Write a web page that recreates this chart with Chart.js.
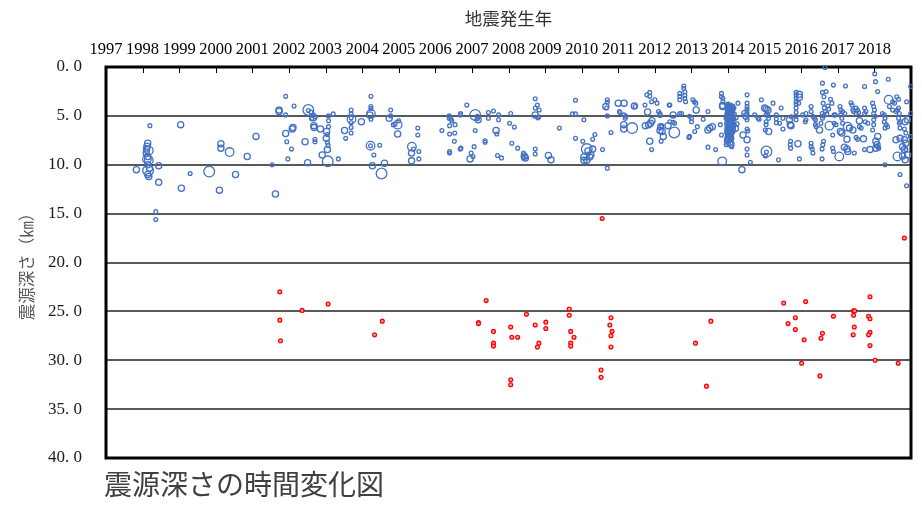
<!DOCTYPE html>
<html lang="ja">
<head>
<meta charset="utf-8">
<title>震源深さの時間変化図</title>
<script src="https://cdn.jsdelivr.net/npm/chart.js@4.4.1/dist/chart.umd.min.js"></script>
<style>
  html, body { margin: 0; padding: 0; background: #fff; }
  #wrap { width: 922px; height: 509px; }
</style>
</head>
<body>
<div id="wrap"><canvas id="chart" width="922" height="509"></canvas></div>
<script>
// axis ticks
const yearTicks = [1997, 1998, 1999, 2000, 2001, 2002, 2003, 2004, 2005, 2006, 2007, 2008,
  2009, 2010, 2011, 2012, 2013, 2014, 2015, 2016, 2017, 2018, 2019]
const depthTicks = [0, 5, 10, 15, 20, 25, 30, 35, 40]

// shallow events: [year, depth km, magnitude]
const quakes1997to2001 = [
  [1997.83,10.5,1.8],
  [1998.14,7.8,1.8],[1998.12,8.1,1.8],[1998.11,8.4,1.8],[1998.17,8.55,2.6],[1998.10,8.8,1.8],
  [1998.14,9.15,1.8],[1998.12,9.4,2.6],[1998.17,9.55,2.6],[1998.14,10.0,1.8],[1998.19,10.35,1.8],
  [1998.15,10.6,3.3],[1998.14,11.0,1.8],[1998.17,11.2,1.8],
  [1998.20,6.0,1.0],[1998.44,10.1,1.8],[1998.44,11.8,1.8],[1998.36,14.8,1.0],[1998.36,15.6,1.0],
  [1999.04,5.9,1.8],[1999.06,12.4,1.8],[1999.30,10.9,1.0],[1999.82,10.7,3.3],
  [2000.14,7.85,1.8],[2000.14,8.3,1.8],[2000.38,8.7,2.6],[2000.10,12.6,1.8],[2000.54,11.0,1.8],[2000.86,9.15,1.8],
  [2001.10,7.1,1.8],[2001.54,10.0,1.0],[2001.63,13.0,1.8],[2001.73,4.4,1.8],[2001.73,4.55,1.8],
  [2001.91,3.0,1.0],[2001.91,4.9,1.0],[2001.91,6.8,1.8],[2001.94,7.65,1.0],[2001.97,9.4,1.0]
]

const quakes2002to2005 = [
  [2002.14,4.0,1.0],[2002.09,6.35,1.8],[2002.11,6.2,1.8],[2002.07,8.4,1.0],[2002.44,7.65,1.8],[2002.51,9.8,1.8],
  [2002.53,4.4,3.3],[2002.53,4.45,1.0],[2002.60,4.6,1.0],[2002.67,4.9,1.0],[2002.67,5.2,1.8],[2002.72,5.1,1.0],
  [2002.62,5.3,1.0],[2002.68,6.0,1.8],[2002.69,6.2,1.8],[2002.86,6.35,1.8],[2002.71,7.4,1.0],[2002.71,7.65,1.0],
  [2002.91,9.0,1.8],
  [2003.03,6.6,1.8],[2003.05,6.9,1.0],[2003.02,7.3,1.8],[2003.05,7.7,1.0],[2003.07,8.0,1.0],[2003.05,8.45,1.8],
  [2003.08,5.0,1.0],[2003.08,5.5,1.0],[2003.08,6.1,1.0],[2003.06,9.65,3.3],[2003.21,4.8,1.0],[2003.35,9.4,1.0],
  [2003.52,6.5,1.8],[2003.55,7.3,1.0],
  [2003.70,4.4,1.0],[2003.70,4.8,1.0],[2003.70,5.2,1.0],[2003.70,5.7,1.0],[2003.70,6.2,1.0],[2003.70,6.75,1.0],
  [2003.71,5.35,2.6],[2003.98,5.6,1.8],
  [2004.21,4.9,1.8],[2004.24,3.0,1.0],[2004.24,4.05,1.0],[2004.24,4.25,1.0],[2004.24,5.35,1.0],[2004.24,4.8,2.6],
  [2004.23,8.05,2.6],[2004.23,8.05,1.0],[2004.32,9.0,1.0],[2004.48,8.0,1.0],[2004.28,10.1,1.8],[2004.53,10.9,3.3],
  [2004.61,9.85,1.8],
  [2004.74,5.25,1.8],[2004.78,4.4,1.0],[2004.78,5.0,1.0],[2004.85,5.9,1.0],[2004.90,5.85,1.0],[2004.97,5.9,2.6],
  [2004.97,6.85,1.8],[2005.00,5.5,1.0],
  [2005.36,8.15,2.6],[2005.35,8.8,1.8],[2005.35,9.6,1.8],[2005.55,8.65,1.0],[2005.55,9.4,1.0],[2005.52,6.25,1.0],
  [2005.52,6.95,1.0],[2005.40,8.4,1.0]
]

const quakes2006to2010 = [
  [2006.18,6.5,1.0],
  [2006.38,5.0,1.0],[2006.38,5.25,1.0],[2006.43,5.35,1.0],[2006.45,5.5,1.0],[2006.39,6.0,1.0],[2006.39,6.85,1.0],
  [2006.53,6.75,1.0],[2006.54,5.9,1.0],[2006.52,7.6,1.0],[2006.39,8.65,1.0],[2006.39,8.8,1.0],
  [2006.68,8.4,1.0],[2006.70,8.3,1.0],[2006.69,4.75,1.0],[2006.69,4.9,1.0],[2006.86,3.9,1.0],
  [2006.98,8.8,1.0],[2007.03,9.15,1.0],[2006.95,9.4,1.8],
  [2007.09,4.9,3.3],[2007.15,5.05,1.0],[2007.15,5.3,1.0],[2007.17,5.4,1.8],[2007.09,6.5,1.0],[2007.06,8.15,1.0],
  [2007.36,7.55,1.0],[2007.36,7.7,1.0],[2007.45,4.65,1.0],[2007.45,5.25,1.0],[2007.59,4.5,1.0],
  [2007.66,6.5,1.8],[2007.68,6.85,1.0],[2007.73,4.9,1.0],[2007.73,5.4,1.0],[2007.70,9.05,1.0],[2007.81,9.3,1.0],
  [2008.03,5.75,1.0],[2008.06,4.75,1.0],[2008.16,6.15,1.0],[2008.09,7.8,1.0],[2008.25,8.3,1.0],
  [2008.41,8.8,1.0],[2008.43,9.1,1.8],[2008.46,9.3,1.8],[2008.48,9.2,1.0],[2008.41,9.3,1.0],
  [2008.73,3.25,1.0],[2008.79,3.9,1.0],[2008.73,4.2,1.0],[2008.84,4.4,1.0],[2008.73,4.9,1.8],
  [2008.80,5.2,1.0],[2008.83,5.1,1.0],[2008.73,8.4,1.0],[2008.73,8.9,1.0],
  [2009.09,9.05,1.8],[2009.16,9.5,1.8],[2009.39,6.25,1.0],[2009.75,4.8,1.0],[2009.83,4.8,1.0],[2009.83,3.4,1.0],
  [2009.83,7.3,1.0],[2010.06,5.4,1.0],[2010.03,7.6,1.0],[2010.30,7.4,1.0],[2010.36,6.9,1.0],
  [2010.14,8.4,3.3],[2010.17,8.6,1.8],[2010.30,8.4,1.8],[2010.25,9.0,1.8],[2010.06,9.2,1.8],[2010.06,9.55,1.8],
  [2010.14,9.55,1.8],[2010.22,9.2,1.8],[2010.18,8.9,1.0],
  [2010.57,8.45,1.0],[2010.70,3.35,1.0],[2010.70,3.6,1.0],[2010.66,4.05,1.8],[2010.68,4.2,1.0],
  [2010.70,10.35,1.0],[2010.80,6.7,1.0],[2010.70,5.0,1.0]
]

const quakes2011to2013 = [
  [2011.00,3.7,1.8],[2011.16,3.7,1.8],[2011.03,4.55,1.0],[2011.05,4.65,1.0],[2011.16,4.9,1.0],[2011.19,5.25,1.0],
  [2011.21,5.05,1.0],[2011.15,5.9,1.8],[2011.15,6.35,1.8],[2011.38,6.25,3.3],[2011.44,4.0,1.8],[2011.46,4.05,1.0],
  [2011.73,3.9,1.0],[2011.78,2.85,1.0],[2011.86,2.6,1.0],[2011.86,3.0,1.0],[2011.91,3.55,1.0],[2012.00,3.35,1.0],
  [2012.06,3.7,1.0],[2011.80,4.6,1.8],[2012.10,4.55,1.0],[2012.14,4.75,1.0],[2012.18,6.0,1.0],[2012.18,6.1,1.0],
  [2011.92,5.5,1.8],[2011.88,5.75,1.8],[2011.83,5.9,1.8],[2011.74,6.0,1.8],[2012.14,6.5,1.8],[2012.23,7.1,1.8],
  [2011.86,7.6,1.8],[2011.91,8.45,1.0],[2012.17,7.6,1.0],[2012.36,6.0,1.8],[2012.39,3.9,1.0],
  [2012.14,4.95,1.0],[2012.16,6.1,1.8],[2012.20,6.6,1.8],[2012.41,3.9,1.0],[2012.50,4.9,1.8],
  [2012.41,5.6,1.0],[2012.50,5.65,1.0],[2012.54,5.75,1.0],[2012.53,6.7,3.3],
  [2012.68,2.7,1.0],[2012.68,3.0,1.0],[2012.68,3.35,1.0],[2012.68,4.75,1.0],[2012.73,4.75,1.0],
  [2012.79,1.95,1.0],[2012.79,2.2,1.0],[2012.82,2.55,1.0],[2012.82,2.9,1.0],[2012.82,3.2,1.0],[2012.84,3.55,1.0],
  [2012.95,5.05,1.0],[2013.00,5.25,1.0],[2013.00,5.6,1.0],[2012.95,7.1,1.0],[2012.93,7.2,1.0],
  [2013.04,3.35,1.0],[2013.08,3.55,1.0],[2013.12,3.7,1.0],[2013.13,4.4,1.8],[2013.09,6.6,1.0],[2013.16,6.1,1.0],
  [2013.45,4.55,1.0],[2013.45,6.45,1.8],[2013.50,6.25,1.8],[2013.57,6.1,1.8],[2013.45,8.2,1.0],[2013.66,8.45,1.0],
  [2013.32,5.35,1.0],[2013.82,2.7,1.0],[2013.82,3.05,1.0],[2013.86,3.2,1.0],[2013.86,3.55,1.0],
  [2013.85,4.05,1.8],[2013.85,3.95,1.8],[2013.79,5.9,1.0],[2013.82,6.95,1.0],[2013.84,9.65,2.6]
]

const quakes2014to2016 = [
  [2013.97,3.9,1.0],[2013.98,4.5,1.0],[2013.96,5.0,1.0],[2013.98,5.45,1.0],[2013.97,5.95,1.0],[2013.96,6.45,1.0],
  [2013.98,6.9,1.0],[2013.97,7.35,1.0],[2013.96,4.2,1.0],[2013.97,4.75,1.0],[2013.96,5.7,1.0],[2013.97,6.2,1.0],
  [2013.96,6.7,1.0],[2013.98,7.15,1.0],
  [2014.00,3.8,1.0],[2014.01,4.2,1.0],[2013.99,4.65,1.0],[2014.01,5.05,1.0],[2014.00,5.3,1.0],[2014.02,5.7,1.0],
  [2014.00,6.1,1.0],[2014.01,6.55,1.0],[2014.00,6.8,1.0],[2014.02,7.2,1.0],[2014.01,7.7,1.0],[2014.00,4.0,1.0],
  [2014.01,4.45,1.0],[2014.00,4.85,1.0],[2014.01,5.5,1.0],[2014.00,5.9,1.0],[2014.01,6.3,1.0],[2014.00,7.0,1.0],
  [2014.03,4.0,1.0],[2014.04,4.35,1.0],[2014.03,4.75,1.0],[2014.05,5.15,1.0],[2014.03,5.5,1.0],[2014.04,5.85,1.0],
  [2014.05,6.25,1.0],[2014.03,6.6,1.0],[2014.04,7.0,1.0],[2014.05,7.5,1.0],[2014.04,4.55,1.0],[2014.03,4.95,1.0],
  [2014.04,5.35,1.0],[2014.03,6.05,1.0],[2014.04,6.45,1.0],[2014.03,6.85,1.0],[2014.04,7.25,1.0],
  [2014.07,3.9,1.0],[2014.06,4.4,1.0],[2014.08,4.8,1.0],[2014.06,5.2,1.0],[2014.07,5.6,1.0],[2014.08,6.0,1.0],
  [2014.06,6.3,1.0],[2014.07,6.75,1.0],[2014.08,7.1,1.0],[2014.07,4.15,1.0],[2014.07,4.6,1.0],[2014.06,5.0,1.0],
  [2014.08,5.4,1.0],[2014.06,5.8,1.0],[2014.07,6.5,1.0],[2014.06,6.95,1.0],[2014.07,7.4,1.0],
  [2014.10,4.1,1.0],[2014.09,4.55,1.0],[2014.11,4.9,1.0],[2014.10,5.3,1.0],[2014.09,5.75,1.0],[2014.11,6.1,1.0],
  [2014.10,6.5,1.0],[2014.09,6.9,1.0],[2014.10,4.35,1.0],[2014.10,5.1,1.0],[2014.10,5.55,1.0],[2014.10,6.3,1.0],
  [2014.10,6.7,1.0],
  [2014.13,4.0,1.0],[2014.12,4.6,1.0],[2014.14,5.0,1.0],[2014.13,5.4,1.0],[2014.12,5.8,1.0],[2014.14,6.2,1.0],
  [2014.13,6.65,1.0],[2014.16,4.2,1.0],[2014.17,4.8,1.0],[2014.16,5.35,1.0],[2014.17,5.9,1.0],[2014.15,6.4,1.0],
  [2014.13,4.3,1.0],[2014.14,5.2,1.0],[2014.13,6.0,1.0],
  [2014.04,7.3,2.6],[2013.99,7.45,1.8],[2014.08,7.9,1.8],[2014.10,8.15,1.0],[2013.95,7.95,1.0],[2014.02,7.6,2.6],
  [2014.06,5.5,1.8],[2013.98,5.2,1.8],[2014.12,6.0,1.8],
  [2014.27,3.7,1.0],[2014.22,5.2,1.0],[2014.25,5.8,1.0],[2014.20,6.3,1.8],[2014.38,10.5,1.8],[2014.41,6.95,1.8],
  [2014.52,2.85,1.0],[2014.52,3.7,1.0],[2014.52,4.05,1.0],[2014.52,4.3,1.0],[2014.52,4.55,1.0],[2014.52,4.9,1.0],
  [2014.52,5.4,1.0],[2014.46,4.75,1.8],[2014.49,5.05,1.8],[2014.52,6.35,1.0],[2014.54,6.55,1.0],[2014.52,7.45,1.8],
  [2014.52,8.4,1.0],[2014.52,9.0,1.0],[2014.61,9.75,1.0],[2014.73,4.9,1.0],[2014.82,5.25,1.0],[2014.85,5.35,1.0],
  [2014.91,3.35,1.0],[2015.00,4.2,1.8],[2015.04,4.3,1.8],[2015.09,4.4,1.8],[2015.04,4.9,1.0],[2015.09,4.95,1.0],
  [2015.11,5.25,1.0],[2015.04,5.6,1.0],[2015.04,5.9,1.0],[2015.11,6.6,1.8],[2015.02,6.45,1.0],
  [2015.05,8.65,3.3],[2015.05,8.7,1.0],[2015.02,9.1,1.0],[2015.23,3.7,1.0],[2015.32,4.9,1.0],[2015.32,5.3,1.0],
  [2015.32,5.7,1.0],[2015.45,4.2,1.0],[2015.50,5.25,1.0],[2015.41,5.75,1.0],[2015.50,6.35,1.0],[2015.38,9.5,1.0],
  [2015.68,5.4,1.8],[2015.70,5.9,1.8],[2015.72,6.0,1.8],[2015.73,5.1,1.0],[2015.71,7.6,1.0],[2015.70,7.95,1.0],
  [2015.71,8.3,1.0],
  [2015.86,2.6,1.0],[2015.86,2.85,1.0],[2015.86,3.2,1.0],[2015.86,3.55,1.0],[2015.86,3.8,1.0],[2015.86,4.2,1.0],
  [2015.86,4.65,1.0],[2015.86,5.05,1.0],[2015.86,5.4,1.0],[2015.95,2.8,1.8],[2015.95,3.1,1.8],[2015.93,3.7,1.0],
  [2015.91,7.85,1.8],[2015.95,9.4,1.0],
  [2016.04,4.9,1.0],[2016.13,4.75,1.0],[2016.13,5.4,1.0],[2016.11,5.6,1.0],[2016.27,4.05,1.0],[2016.27,4.55,1.0],
  [2016.32,5.05,1.0],[2016.36,5.25,1.0],[2016.39,5.4,1.0],[2016.27,7.8,1.0],[2016.27,8.15,1.0],[2016.30,8.4,1.0],
  [2016.32,8.8,1.0],[2016.39,5.9,1.0],[2016.41,6.1,1.0],
  [2016.58,1.65,1.0],[2016.58,2.6,1.0],[2016.62,3.05,1.0],[2016.68,2.5,1.0],[2016.60,3.7,1.0],[2016.63,4.2,1.0],
  [2016.57,4.75,1.0],[2016.58,5.25,1.0],[2016.54,5.75,1.0],[2016.61,5.0,1.0],[2016.66,4.55,1.0],[2016.70,4.8,1.0],
  [2016.61,7.6,1.0],[2016.59,7.95,1.0],[2016.57,8.4,1.0],[2016.57,9.4,1.0],[2016.50,6.45,1.8],[2016.77,6.0,2.6],
  [2016.73,4.0,1.0],[2016.75,4.3,1.0],[2016.80,3.3,1.0],[2016.88,1.85,1.0],[2016.65,0.05,1.0],
  [2016.84,3.7,1.0],[2016.90,4.9,1.0],[2016.93,4.9,1.0],[2016.90,5.75,1.0],[2016.95,5.9,1.0],[2016.86,6.95,1.0],
  [2016.86,8.3,1.0],[2016.88,8.65,1.0]
]

const quakes2017to2018 = [
  [2017.07,6.6,1.8],[2017.11,6.75,1.8],[2017.06,4.05,1.0],[2017.08,4.4,1.0],[2017.08,4.9,1.0],[2017.11,5.25,1.0],
  [2017.13,5.75,1.0],[2017.13,4.55,1.0],[2017.19,4.75,1.0],[2017.21,1.95,1.0],[2017.27,6.1,2.6],[2017.32,6.25,1.8],
  [2017.25,7.4,1.8],[2017.18,8.2,1.8],[2017.25,8.4,1.8],[2017.27,8.65,1.8],[2017.04,9.15,2.6],
  [2017.36,3.65,1.0],[2017.39,3.9,1.0],[2017.41,4.4,1.0],[2017.43,4.55,1.0],[2017.50,4.75,1.0],[2017.50,4.2,1.0],
  [2017.54,4.4,1.0],[2017.57,4.65,1.0],[2017.45,8.8,1.0],[2017.41,6.45,1.8],[2017.50,7.2,1.0],[2017.54,7.4,1.0],
  [2017.59,5.5,1.8],[2017.59,6.1,1.0],[2017.64,6.25,1.0],[2017.70,7.35,1.8],[2017.73,2.0,1.0],
  [2017.73,4.2,1.0],[2017.77,4.55,1.0],[2017.73,4.75,1.0],[2017.75,5.6,1.0],[2017.82,5.75,1.0],[2017.73,8.45,1.0],
  [2017.88,8.45,1.8],[2017.95,3.7,1.0],[2017.98,4.05,1.0],[2018.00,4.4,1.0],[2017.98,4.75,1.0],[2018.02,5.05,1.0],
  [2017.98,5.4,1.0],[2018.01,0.7,1.0],[2018.03,1.5,1.0],[2018.09,2.5,1.0],
  [2018.09,7.1,1.8],[2018.04,7.6,1.8],[2018.07,7.95,1.8],[2018.04,8.3,1.8],[2018.09,8.15,1.0],[2018.12,8.3,1.0],
  [2017.95,6.45,1.0],[2017.98,5.9,1.0],
  [2018.22,4.75,1.0],[2018.27,4.9,1.0],[2018.29,5.25,1.0],[2018.27,5.6,1.0],[2018.32,5.9,1.0],[2018.36,6.1,1.0],
  [2018.29,6.25,1.0],[2018.29,10.0,1.0],[2018.38,1.25,1.0],[2018.39,3.35,2.6],[2018.41,4.05,1.0],
  [2018.50,4.4,1.0],[2018.59,4.55,1.0],[2018.63,4.4,1.0],[2018.66,4.2,1.0],[2018.68,4.75,1.0],[2018.66,5.25,1.0],
  [2018.71,5.6,1.0],[2018.68,5.75,1.0],[2018.70,6.25,1.0],[2018.61,3.05,1.0],[2018.66,3.3,1.0],[2018.50,3.55,1.0],
  [2018.55,3.7,1.0],
  [2018.59,7.45,1.8],[2018.70,7.3,1.8],[2018.82,7.45,1.8],[2018.86,7.8,1.8],[2018.77,8.15,1.8],[2018.82,8.45,1.8],
  [2018.86,8.45,1.0],[2018.91,9.0,1.8],[2018.77,9.1,1.8],[2018.84,9.5,1.8],[2018.70,11.0,1.0],[2018.88,12.15,1.0],
  [2018.99,2.0,1.0],[2018.99,4.75,1.0],[2018.98,7.1,1.0],[2018.63,9.15,2.6],[2018.82,6.35,1.0],[2018.86,6.75,1.0],
  [2018.84,5.6,1.8],[2018.90,5.4,1.8],[2018.88,3.55,1.0]
]

// deeper events (red): [year, depth km]
const deepQuakes = [
  [2001.75,23.0],[2002.36,24.9],[2003.07,24.25],[2001.75,25.9],[2001.77,28.0],[2004.55,26.0],[2004.34,27.4],
  [2007.39,23.9],[2007.18,26.15],[2007.18,26.25],[2007.59,27.05],[2007.59,28.25],[2007.59,28.55],
  [2008.06,26.6],[2008.09,27.65],[2008.25,27.65],[2008.06,32.0],[2008.06,32.5],[2008.49,25.3],[2008.73,26.4],
  [2009.02,26.1],[2009.02,26.75],[2008.83,28.25],[2008.79,28.65],
  [2009.66,24.75],[2009.66,25.4],[2009.70,27.05],[2009.79,27.65],[2009.70,28.25],[2009.70,28.55],
  [2010.80,25.65],[2010.77,26.4],[2010.83,27.05],[2010.80,27.5],[2010.80,28.65],[2010.53,31.0],[2010.53,31.75],
  [2010.56,15.5],
  [2013.53,26.0],[2013.11,28.25],[2013.41,32.65],
  [2015.52,24.15],[2015.84,25.65],[2015.64,26.25],[2015.84,26.85],[2016.12,24.0],[2016.08,27.9],[2016.01,30.3],
  [2016.58,27.25],[2016.54,27.75],[2016.51,31.6],[2016.88,25.5],
  [2017.43,24.95],[2017.46,24.95],[2017.43,25.4],[2017.45,26.6],[2017.42,27.4],
  [2017.88,23.5],[2017.84,25.5],[2017.88,25.75],[2017.88,27.15],[2017.84,27.4],[2017.88,28.5],[2018.02,30.0],
  [2018.65,30.3],[2018.82,17.5]
]

const shallowQuakes = [].concat(quakes1997to2001, quakes2002to2005, quakes2006to2010,
  quakes2011to2013, quakes2014to2016, quakes2017to2018)

const serif = '"Liberation Serif", "DejaVu Serif", serif'
const jp = '"Noto Sans CJK JP", "Noto Sans", sans-serif'

const framePlugin = {
  id: 'frame',
  beforeDatasetsDraw(chart) {
    const { ctx, chartArea: a, scales: { x } } = chart
    ctx.save()
    ctx.strokeStyle = '#000'
    ctx.lineWidth = 1
    ctx.beginPath()
    yearTicks.forEach(yr => {
      const px = Math.round(x.getPixelForValue(yr)) + 0.5
      ctx.moveTo(px, a.top)
      ctx.lineTo(px, a.top + 6)
    })
    ctx.stroke()
    ctx.lineWidth = 3
    ctx.strokeRect(a.left, a.top, a.right - a.left, a.bottom - a.top)
    ctx.restore()
  },
  afterDraw(chart) {
    const { ctx, chartArea: a } = chart
    ctx.save()
    ctx.font = '28px ' + jp
    ctx.fillStyle = '#404040'
    ctx.textBaseline = 'middle'
    ctx.fillText('震源深さの時間変化図', a.left - 2, 484)
    ctx.restore()
  }
}

new Chart(document.getElementById('chart'), {
  type: 'scatter',
  data: {
    datasets: [
      {
        label: 'deep',
        data: deepQuakes.map(q => ({ x: q[0], y: q[1] })),
        pointRadius: 1.9,
        pointBorderWidth: 1.3,
        borderColor: '#ff0000',
        backgroundColor: 'rgba(255,170,170,1)',
        clip: 8,
        order: 0
      },
      {
        label: 'shallow',
        data: shallowQuakes.map(q => ({ x: q[0], y: q[1], m: q[2] })),
        pointRadius: c => c.raw ? c.raw.m * 1.5 + 0.4 : 2,
        pointBorderWidth: 1.3,
        borderColor: '#4472c4',
        backgroundColor: 'rgba(255,255,255,0)',
        clip: 8,
        order: 1
      }
    ]
  },
  options: {
    responsive: false,
    animation: false,
    devicePixelRatio: 1,
    layout: { padding: { left: 0, top: 0, right: 11, bottom: 51 } },
    plugins: {
      legend: { display: false },
      tooltip: { enabled: false }
    },
    scales: {
      x: {
        type: 'linear',
        position: 'top',
        min: 1997,
        max: 2019,
        afterBuildTicks: s => { s.ticks = yearTicks.map(v => ({ value: v })) },
        afterFit: s => { s.height = 67 },
        ticks: {
          autoSkip: false,
          maxRotation: 0,
          padding: 7,
          color: '#000',
          font: { family: serif, size: 16.5 },
          callback: v => v < 2019 ? String(v) : ''
        },
        grid: { display: false, drawTicks: false, tickLength: 0 },
        border: { display: false },
        title: {
          display: true,
          text: '地震発生年',
          color: '#333',
          font: { family: jp, size: 17.5 },
          padding: { top: 8, bottom: 0 }
        }
      },
      y: {
        reverse: true,
        min: 0,
        max: 40,
        afterBuildTicks: s => { s.ticks = depthTicks.map(v => ({ value: v })) },
        afterFit: s => { s.width = 106 },
        ticks: {
          padding: 24,
          color: '#1a1a1a',
          font: { family: serif, size: 17 },
          callback: v => v.toFixed(1).replace('.', '. ')
        },
        grid: { color: '#595959', lineWidth: 2, drawTicks: false, tickLength: 0 },
        border: { display: false },
        title: {
          display: true,
          text: '震源深さ（㎞）',
          color: '#595959',
          font: { family: jp, size: 16.5 },
          padding: { top: 17, bottom: 0 }
        }
      }
    }
  },
  plugins: [framePlugin]
})
</script>
</body>
</html>
